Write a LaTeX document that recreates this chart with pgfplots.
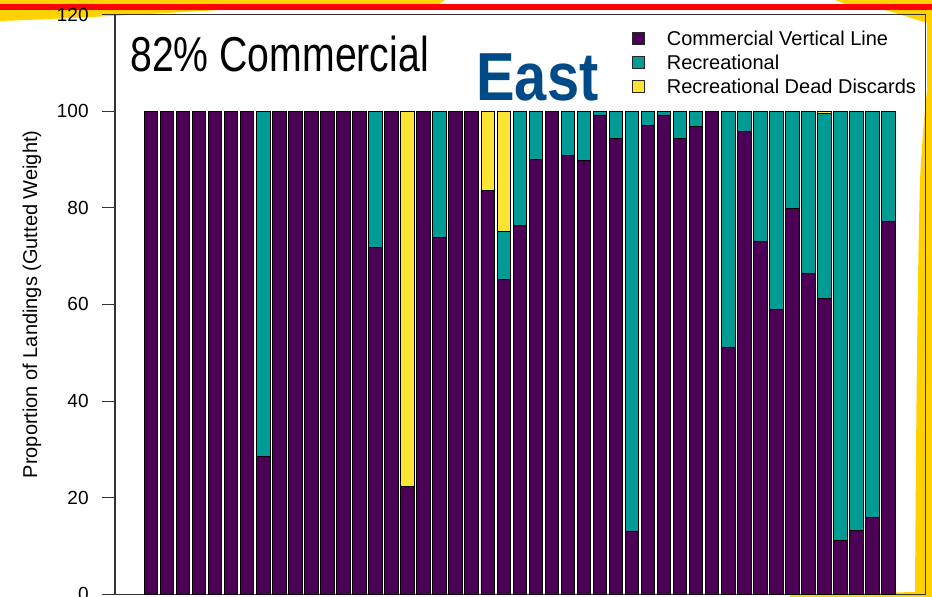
\documentclass[border=0pt]{standalone}
\usepackage{fontspec}
\setmainfont{Liberation Sans}
\usepackage{graphicx}
\usepackage{pgfplots}
\pgfplotsset{compat=1.18}
\usepackage{pgfplotstable}
\definecolor{cpurple}{HTML}{4B0055}
\definecolor{cteal}{HTML}{009B95}
\definecolor{cyellow}{HTML}{FDE333}
\definecolor{eastblue}{HTML}{004A87}
\definecolor{slideyellow}{HTML}{FFD200}
\definecolor{slidered}{HTML}{FF0000}

\pgfplotstableread{
x com rec dd
1 100 0 0
2 100 0 0
3 100 0 0
4 100 0 0
5 100 0 0
6 100 0 0
7 100 0 0
8 28.6 71.4 0
9 100 0 0
10 100 0 0
11 100 0 0
12 100 0 0
13 100 0 0
14 100 0 0
15 71.8 28.2 0
16 100 0 0
17 22.4 0 77.6
18 100 0 0
19 73.8 26.2 0
20 100 0 0
21 100 0 0
22 83.6 0 16.4
23 65.1 10.0 24.9
24 76.3 23.7 0
25 89.9 10.1 0
26 100 0 0
27 90.8 9.2 0
28 89.7 10.3 0
29 99.2 0.8 0
30 94.3 5.7 0
31 13.1 86.9 0
32 97.1 2.9 0
33 99.2 0.8 0
34 94.4 5.6 0
35 96.9 3.1 0
36 100 0 0
37 51.0 49.0 0
38 95.8 4.2 0
39 73.1 26.9 0
40 59.0 41.0 0
41 79.8 20.2 0
42 66.3 33.7 0
43 61.2 38.4 0.4
44 11.2 88.8 0
45 13.2 86.8 0
46 15.8 84.2 0
47 77.1 22.9 0
}\datatable

\begin{document}
\begin{tikzpicture}
% slide decorations (image pixel coordinates)
\begin{scope}[x=0.5pt,y=-0.5pt,shift={(-57.5pt,297.15pt)}]
  \fill[slideyellow] (0,0) -- (445,0) -- (430,10) -- (220,10) .. controls (150,14) and (60,19) .. (0,21) -- cycle;
  \fill[slideyellow] (835,0) -- (932,0) -- (932,24) .. controls (915,20) and (900,14) .. (885,10) -- (845,4) -- cycle;
  \fill[slidered] (0,4) rectangle (932,10);
  \fill[slideyellow] (927,10) -- (932,10) -- (932,597) -- (790,597) -- (790,595) -- (915,592) .. controls (916,450) and (917,300) .. (920,180) .. controls (922,140) and (925,110) .. (927,90) -- cycle;
\end{scope}

\begin{axis}[
  at={(0,0)}, anchor=south west,
  scale only axis, width=405.3pt, height=289.9pt,
  xmin=-1.244, xmax=49.31, ymin=0, ymax=120,
  ybar stacked, bar width=0.84,
  xtick=\empty,
  ytick={0,20,...,120},
  ytick pos=left,
  tick align=outside, major tick length=6.5pt,
  ytick style={black!80, line width=0.5pt},
  axis line style={black!80, line width=0.6pt},
  tick label style={font=\fontsize{9.5}{11}\selectfont},
  /pgf/number format/assume math mode=true,
  yticklabel style={anchor=east, inner sep=0pt, xshift=-6.5pt},
  ylabel={Proportion of Landings (Gutted Weight)},
  ylabel style={font=\fontsize{10}{12}\selectfont, at={(axis description cs:-0.1024,0.5)}, anchor=center},
  legend style={at={(rel axis cs:0.63,0.9816)}, anchor=north west, draw=none, fill=none,
    font=\fontsize{10}{12}\selectfont, row sep=0.8pt,
    nodes={inner sep=1pt, text height=7.2pt, text depth=2pt}},
  legend cell align=left,
  legend image code/.code={\draw[#1, draw=black!85, line width=0.4pt] (0pt,-1.6pt) rectangle (5.8pt,4.2pt); \path (16pt,0pt);},
]
\addplot[fill=cpurple, draw=black, line width=0.45pt] table[x=x,y=com]{\datatable};
\addplot[fill=cteal, draw=black, line width=0.45pt] table[x=x,y=rec]{\datatable};
\addplot[fill=cyellow, draw=black, line width=0.45pt] table[x=x,y=dd]{\datatable};
\legend{Commercial Vertical Line, Recreational, Recreational Dead Discards}
\end{axis}

\begin{scope}[x=0.5pt,y=-0.5pt,shift={(-57.5pt,297.15pt)}]
  \node[anchor=base west, inner sep=0pt] at (130,72) {\scalebox{0.8}[1]{\fontsize{24.5}{28}\selectfont 82\% Commercial}};
  \node[anchor=base west, inner sep=0pt, text=eastblue] at (476,100.5) {\scalebox{0.85}[1]{\fontsize{34}{40}\selectfont\bfseries East}};
\end{scope}

\pgfresetboundingbox
\path[use as bounding box] (-57.5pt,-1.35pt) rectangle (408.5pt,297.15pt);
\end{tikzpicture}
\end{document}
